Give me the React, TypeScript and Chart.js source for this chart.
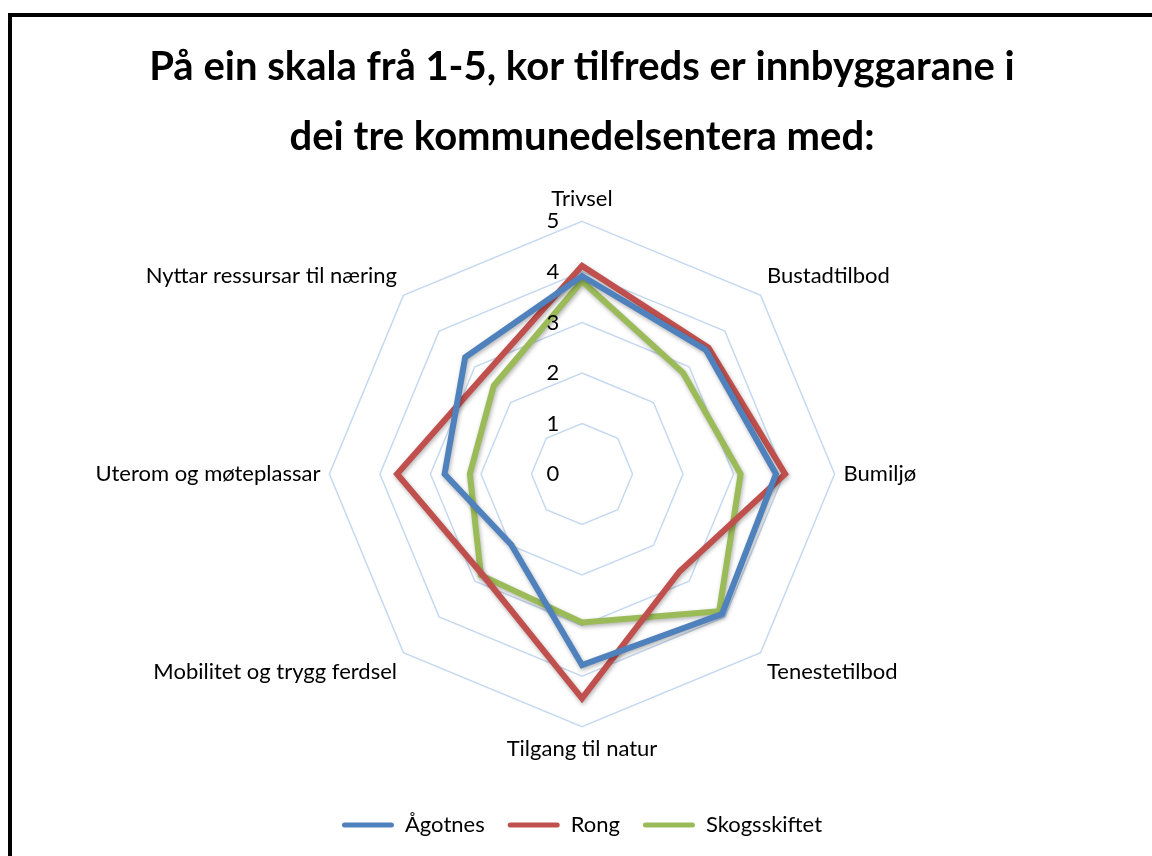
import React, { useEffect, useRef } from "react";
import { Chart, registerables } from "chart.js";

Chart.register(...registerables);

const categories = [
  "Trivsel",
  "Bustadtilbod",
  "Bumiljø",
  "Tenestetilbod",
  "Tilgang til natur",
  "Mobilitet og trygg ferdsel",
  "Uterom og møteplassar",
  "Nyttar ressursar til næring",
];

const agotnes = [3.92, 3.47, 3.84, 3.92, 3.78, 1.98, 2.72, 3.27];
const rong = [4.12, 3.54, 4.02, 2.73, 4.44, 2.8, 3.66, 2.75];
const skogsskiftet = [3.82, 2.83, 3.14, 3.84, 2.94, 2.83, 2.22, 2.47];

const seriesNames = ["Ågotnes", "Rong", "Skogsskiftet"];
const titleLines = [
  "På ein skala frå 1-5, kor tilfreds er innbyggarane i",
  "dei tre kommunedelsentera med:",
];

const FONT = "Lato, 'Noto Sans', sans-serif";

const shadowPlugin = {
  id: "lineShadow",
  beforeDatasetsDraw(chart: any) {
    const ctx = chart.ctx;
    ctx.save();
    ctx.shadowColor = "rgba(0,0,0,0.3)";
    ctx.shadowBlur = 4;
    ctx.shadowOffsetX = 1;
    ctx.shadowOffsetY = 2;
  },
  afterDatasetsDraw(chart: any) {
    chart.ctx.restore();
  },
};

const tickPlugin = {
  id: "offsetTicks",
  afterDraw(chart: any) {
    const scale = chart.scales.r;
    const ctx = chart.ctx;
    ctx.save();
    ctx.font = `22px ${FONT}`;
    ctx.fillStyle = "#000";
    ctx.textAlign = "center";
    ctx.textBaseline = "middle";
    scale.ticks.forEach((t: any) => {
      const d = scale.getDistanceFromCenterForValue(t.value);
      ctx.fillText(String(t.value), scale.xCenter - 29, scale.yCenter - d);
    });
    ctx.restore();
  },
};

export default function App() {
  const ref = useRef<HTMLCanvasElement>(null);
  useEffect(() => {
    const colors = ["#4f81bd", "#c0504d", "#9bbb59"];
    const values = [agotnes, rong, skogsskiftet];
    const chart = new Chart(ref.current!, {
      type: "radar",
      data: {
        labels: categories,
        datasets: values.map((v, i) => ({
          label: seriesNames[i],
          data: v,
          borderColor: colors[i],
          backgroundColor: colors[i],
          borderWidth: 6,
          fill: false,
          pointRadius: 0,
          pointHoverRadius: 0,
          borderJoinStyle: "miter" as const,
          tension: 0,
        })),
      },
      options: {
        responsive: false,
        animation: false,
        layout: { padding: { top: 0, bottom: 10, left: 0, right: 0 } },
        plugins: {
          title: {
            display: true,
            text: titleLines,
            color: "#000",
            font: { family: FONT, size: 40, weight: "bold", lineHeight: 1.75 },
            padding: { top: 15, bottom: 14 },
          },
          legend: {
            position: "bottom",
            title: {
              display: true,
              text: " ",
              color: "#000",
              font: { family: FONT, size: 10 },
              padding: { top: 0, bottom: 17 },
            },
            labels: {
              color: "#000",
              font: { family: FONT, size: 22 },
              boxWidth: 52,
              boxHeight: 5,
              padding: 23,
              generateLabels: (c: any) =>
                c.data.datasets.map((ds: any, i: number) => ({
                  text: ds.label,
                  fillStyle: ds.borderColor,
                  strokeStyle: ds.borderColor,
                  fontColor: "#000",
                  lineWidth: 0,
                  borderRadius: 2.5,
                  datasetIndex: i,
                  hidden: false,
                })),
            },
          },
          tooltip: { enabled: false },
        },
        scales: {
          r: {
            min: 0,
            max: 5,
            ticks: { stepSize: 1, display: false },
            grid: { color: "#c6d9f0", lineWidth: 1.5 },
            angleLines: { display: false },
            pointLabels: {
              color: "#000",
              font: { family: FONT, size: 22 },
              padding: 9,
            },
          },
        },
      },
      plugins: [shadowPlugin, tickPlugin],
    });
    return () => chart.destroy();
  }, []);
  return (
    <div
      style={{
        position: "absolute",
        left: 8,
        top: 13,
        width: 1144,
        height: 843,
        boxSizing: "border-box",
        borderLeft: "4px solid #000",
        borderTop: "4px solid #000",
        background: "#fff",
        overflow: "hidden",
      }}
    >
      <canvas ref={ref} width={1140} height={839} style={{ display: "block" }} />
    </div>
  );
}
